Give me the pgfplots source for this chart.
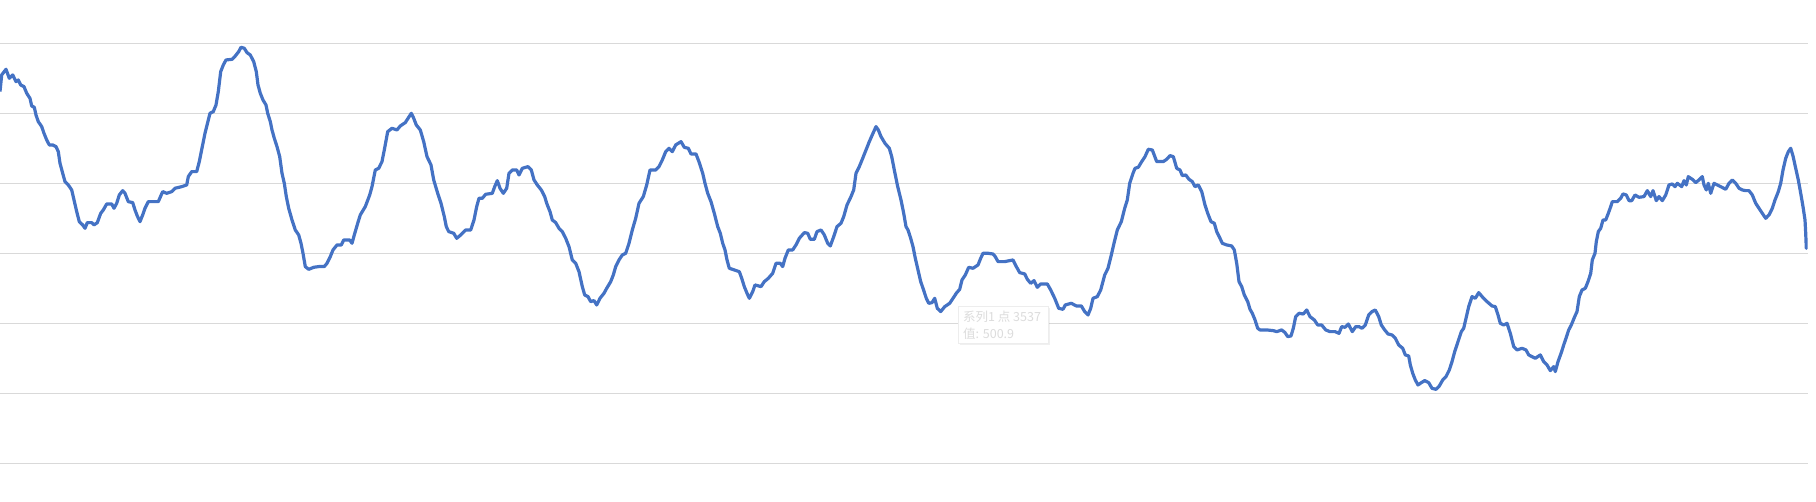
\documentclass[border=0pt]{standalone}
\usepackage{pgfplots}
\pgfplotsset{compat=1.18}
\usepackage{fontspec}
\newfontfamily\cjk{Noto Sans CJK SC}
\usetikzlibrary{shadows}
\definecolor{lineblue}{HTML}{4472C4}
\definecolor{gridgray}{HTML}{D9D9D9}
\definecolor{tipgray}{HTML}{DCDCDC}
\begin{document}
\begin{tikzpicture}
\useasboundingbox (0,-38.7pt) rectangle (1816pt,463.3pt);
\begin{axis}[
  at={(0,0)}, anchor=south west,
  scale only axis, width=1807.5pt, height=420pt,
  xmin=0, xmax=1807.5, ymin=480, ymax=540,
  xtick=\empty, ytick={480,490,...,540}, yticklabels={},
  tick style={draw=none}, major tick length=0pt,
  ymajorgrids, grid style={gridgray, line width=1.1pt},
  axis line style={draw=none},
]
\addplot[lineblue, line width=3.2pt, line join=round] table {
x y
0 533.10
1.7 535.48
6 536.29
9.3 535.00
12.7 535.48
16 534.52
18.3 534.76
20.7 534.05
24 533.81
26.7 532.86
30 532.14
31.7 531.05
34.3 530.86
36 529.76
38.3 528.81
41.7 528.10
44 527.14
46.7 526.19
49.3 525.48
52.7 525.48
56 525.24
58.3 524.52
60 522.86
62.7 521.43
65 520.24
68.3 519.76
71.7 519.05
74 517.62
76.7 515.95
79.3 514.52
82.7 514.05
85 513.57
87.3 514.38
91.7 514.38
94 514.05
97.3 514.38
100.7 515.71
103.3 516.19
106.7 517.05
111.7 517.05
114 516.43
116.7 517.14
119.3 518.33
122.7 518.95
125 518.57
128.3 517.38
132.7 517.24
135 516.19
137.3 515.33
140 514.52
142.7 515.48
145 516.43
148.3 517.38
158.3 517.38
162.7 518.81
166.7 518.57
171.7 518.81
175 519.29
181.7 519.52
186.7 519.76
188.3 520.95
191.7 521.67
196.7 521.67
199.3 523.10
202.3 525.24
205 527.14
208.3 529.05
210 530.00
213.3 530.24
216 531.19
218.3 533.10
220.7 535.95
223.3 536.90
226 537.62
232 537.71
235.3 538.19
238.7 538.81
241 539.43
244.3 539.29
247 538.67
250.3 538.33
253.7 537.38
256.3 535.95
258 534.05
260.3 532.86
263 531.90
266 531.19
267.7 530.00
270.3 528.81
272 527.62
274.3 526.43
277 525.24
279.7 523.81
282 521.43
284.3 520.00
286.3 518.10
288.7 516.43
292 514.76
295.3 513.33
298.7 512.62
301 511.43
303 510.00
305.3 508.10
308.7 507.71
313.7 508.00
318.7 508.10
324.3 508.10
327 508.57
330.3 509.52
333 510.48
337 511.19
341.3 511.19
343.7 511.90
349.7 511.90
352 511.43
354.3 512.62
357.7 514.29
360.3 515.48
365.3 516.67
369.7 518.33
372 519.52
375.3 521.90
378.7 522.14
382 523.10
384.3 524.76
387.7 527.38
392 527.86
397 527.62
400.3 528.19
405.3 528.67
408.7 529.43
411.3 530.00
413.7 529.29
416.3 528.33
420.3 527.62
423.7 525.95
427 523.81
431 522.62
433.7 520.48
437.7 518.57
441 517.14
444.3 515.24
446.3 513.81
448.7 513.10
453.7 512.86
456.7 512.14
460.7 512.62
465.7 513.33
470.7 513.33
474 514.76
476.7 516.67
479 517.86
482.3 517.86
485.7 518.43
492.3 518.57
494.7 519.52
497.3 520.38
500 519.29
503.3 518.57
506.7 519.29
509 521.43
512.3 521.90
516.7 521.90
519 521.19
522.3 522.14
528 522.38
531.3 521.90
534 520.48
537.3 519.76
541.3 519.05
544.7 518.10
546.7 517.14
550 515.95
552.3 514.76
555.7 514.38
559 513.57
562.3 513.10
565.7 512.14
569 510.95
572.3 509.05
575.7 508.57
579 507.38
582.3 505.24
584.7 504.05
588 503.81
590.7 503.10
594 503.24
596.7 502.62
600 503.57
604 504.29
606.7 505.00
610.7 505.95
613.3 506.90
615.7 508.10
619 509.05
622.3 509.76
625.7 510.00
629 511.43
632.3 513.33
635.7 515.00
639 517.14
643.3 518.10
646.7 519.76
650 521.90
655.7 521.90
659 522.38
662.3 523.33
665.7 524.52
669 525.00
672.3 524.52
675.7 525.48
681 525.95
684.3 525.14
688.3 525.00
691 524.19
696 524.19
699.3 522.95
702.7 521.43
705 520.00
707.7 518.57
711 517.38
714.3 515.71
717.7 513.81
720.3 512.86
722.7 511.43
725 510.48
727 509.05
729.3 507.86
734.3 507.62
739.3 507.38
741.7 506.43
744.3 505.24
747 504.29
749.3 503.57
752.7 504.52
755 505.48
761 505.24
764.3 505.95
768.3 506.43
772.7 507.14
776 508.57
780.3 508.57
782.7 508.10
785 509.29
788.3 510.48
792.7 510.48
796 511.19
799.3 512.14
804.3 512.95
807.7 512.86
810.3 512.00
814.3 512.00
817 513.10
821 513.33
824.3 512.62
827.7 511.43
830.3 511.05
833.7 512.38
837 513.81
841 514.29
843.7 515.24
847 516.90
851 518.10
853.7 519.05
856 521.43
859.3 522.38
862.7 523.57
866 524.76
869.3 525.95
872.7 527.05
876 528.10
878.3 527.62
881 526.67
885 525.71
889.3 525.00
891.7 523.81
894.3 521.90
897.7 519.52
901 517.62
903.7 515.71
906 513.81
908 513.33
910.7 512.14
913 510.95
915.3 509.29
918 507.62
920.7 505.95
923 505.00
926.3 503.57
928.7 502.86
932 502.95
934.7 503.57
937.3 502.14
940.7 501.67
944.7 502.38
949.7 502.86
953 503.57
956.3 504.29
959.7 504.86
962 506.19
965.3 506.90
968.7 508.00
973 507.86
978 508.33
980.7 509.29
983 510.00
988 510.00
993 509.90
995.3 509.52
998 508.81
1004.7 508.81
1013 509.05
1016.3 508.10
1019.7 507.24
1024.7 507.05
1027.3 506.29
1030.7 505.71
1034 506.10
1037.3 505.14
1040.7 505.62
1047.3 505.62
1050.7 504.76
1054.7 503.57
1058.7 502.14
1063 502.00
1065.3 502.62
1071.3 502.86
1076.3 502.48
1081.3 502.48
1084.7 501.67
1088 501.19
1090.7 502.14
1093 503.57
1097.3 503.81
1100.7 504.76
1104.7 506.90
1108 507.86
1111.3 509.76
1114 511.43
1117.3 513.33
1121.3 514.52
1124.7 516.43
1127.3 517.62
1129.7 520.00
1133 521.43
1135 522.14
1138.3 522.29
1141.7 523.10
1145 523.81
1148.3 524.86
1152.3 524.76
1156.7 523.10
1163.3 523.10
1166.7 523.43
1170 523.95
1173.3 523.81
1176.7 522.14
1180 521.90
1182.3 521.10
1185.7 521.19
1189 520.57
1192.3 520.24
1195 519.52
1198.3 519.76
1201.7 518.81
1205 516.90
1207.7 515.71
1211 514.52
1214.3 514.29
1216.7 513.10
1220 512.14
1222.3 511.43
1226.7 511.19
1231.7 511.05
1234.3 510.48
1236.7 508.57
1239 505.95
1241.7 505.24
1244.3 504.05
1247.7 503.10
1250 502.00
1252.3 501.43
1255 500.48
1257.7 499.29
1260 499.05
1266.7 499.05
1273.3 498.95
1276.7 498.81
1281.7 499.05
1285 498.67
1287.7 498.10
1291 498.19
1293.3 499.29
1295.7 500.95
1299 501.43
1303.3 501.33
1306.7 501.90
1310 500.95
1314.3 500.48
1317.7 499.76
1321.7 499.76
1325.7 499.05
1330 498.81
1335 498.81
1339 498.57
1341.7 499.52
1345 499.43
1348.3 499.90
1352.3 498.81
1355.7 499.52
1359 499.52
1362 499.29
1365.3 499.76
1368.7 501.19
1372 501.67
1375.3 501.90
1378.7 500.95
1381.3 499.76
1384.7 499.05
1388 498.48
1392 498.33
1395.3 497.86
1398.7 496.90
1402.7 496.43
1405.3 495.48
1408.7 495.33
1410.3 494.05
1412.7 492.86
1415.3 491.90
1418 491.19
1421.3 491.52
1424.7 491.81
1428.7 491.52
1432 490.71
1436 490.57
1439.3 491.05
1442.7 491.90
1446 492.38
1449.3 493.33
1452 494.52
1454.7 495.95
1458 497.38
1461.3 498.81
1463.7 499.29
1466 500.71
1468.7 502.38
1472 503.81
1475.3 503.57
1478.7 504.38
1482.7 503.71
1487 503.10
1492 502.48
1495.3 502.38
1498 501.19
1500.3 500.00
1503.7 499.76
1507 500.00
1510.3 498.57
1513.7 496.67
1517 496.19
1522 496.43
1526 496.19
1528.7 495.48
1532 495.24
1535.3 495.00
1540.3 495.48
1543.7 494.52
1547 494.05
1550.3 493.24
1553.7 493.81
1555.3 493.10
1558 494.52
1561.3 495.81
1563.7 496.90
1566 497.86
1568.7 499.05
1571.3 499.76
1574.7 500.95
1577 501.67
1579.3 503.81
1582 504.76
1585.3 505.00
1588 505.95
1590.7 507.14
1592.3 509.05
1595 510.00
1596.3 511.67
1598.3 513.10
1600.7 513.57
1603 514.76
1605.7 514.76
1608.3 515.71
1610.7 516.67
1612.3 517.38
1617.3 517.38
1620.7 517.86
1623 518.48
1626.3 518.33
1629 517.52
1631.7 517.52
1635 518.33
1639 518.00
1644 518.10
1647.3 518.95
1650.7 518.10
1653 518.95
1656.3 517.52
1659 518.10
1662.3 517.52
1665.7 518.33
1669 519.76
1672.3 519.90
1675 519.52
1677.3 520.00
1681.7 519.52
1684 520.38
1686.3 519.76
1688.3 520.95
1692.3 520.57
1695.7 520.10
1699 520.48
1702.3 520.95
1704 519.76
1706.3 519.05
1708.3 520.00
1710.7 518.57
1714 520.00
1717.3 519.76
1720.7 519.52
1725.7 519.14
1729 520.00
1732.3 520.48
1735.7 520.00
1739 519.29
1742.3 519.05
1745.7 518.95
1749 518.95
1752.3 518.33
1755.7 517.14
1759 516.43
1762.3 515.71
1765.7 515.00
1769 515.48
1772.3 516.43
1775 517.62
1778.3 518.81
1780.7 520.00
1783 521.90
1785.7 523.57
1788.3 524.52
1790.7 525.00
1793 523.90
1795.7 522.14
1798.3 520.48
1800.7 518.57
1803 516.67
1805 514.76
1805.7 512.86
1806.3 510.71
1807.3 511.90
};
\draw[draw=tipgray!50, fill=white, line width=0.6pt,
  drop shadow={opacity=0.12, shadow xshift=1.5pt, shadow yshift=-1.5pt}]
  (axis cs:958,502.37) rectangle (axis cs:1048,497.14);
\node[anchor=west, inner sep=0pt, text=tipgray, font=\cjk\fontsize{12.5}{15}\selectfont]
  at (axis cs:963,500.94) {系列1 点 3537};
\node[anchor=west, inner sep=0pt, text=tipgray, font=\cjk\fontsize{12.5}{15}\selectfont]
  at (axis cs:963,498.57) {值: 500.9};
\end{axis}
\end{tikzpicture}
\end{document}
